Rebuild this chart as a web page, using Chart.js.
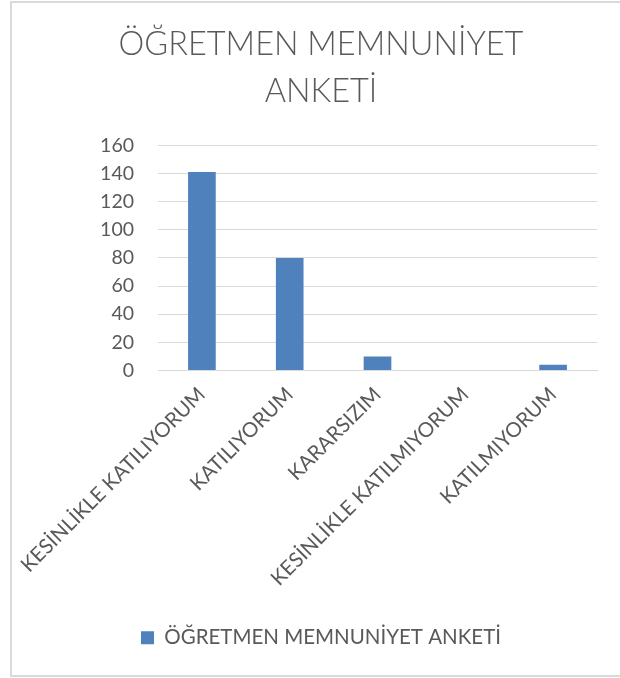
<!DOCTYPE html>
<html>
<head>
<meta charset="utf-8">
<script src="https://cdn.jsdelivr.net/npm/chart.js@4/dist/chart.umd.min.js"></script>
<style>
    html, body { margin: 0; padding: 0; background: #fff; }
    #wrap { position: relative; width: 620px; height: 678px; overflow: hidden; }
    #frame { position: absolute; left: 10px; top: 1px; width: 640px; height: 672px; border: 2px solid #d9d9d9; }
    canvas { position: absolute; left: 0; top: 0; }
</style>
</head>
<body>
<div id="wrap">
    <div id="frame"></div>
    <!-- canvas is a bit wider than the window so title/legend centre on the frame -->
    <canvas id="surveyChart" width="642" height="678"></canvas>
</div>
<script>
    // Survey answers and counts
    const categories = ['KESİNLİKLE KATILIYORUM', 'KATILIYORUM', 'KARARSIZIM', 'KESİNLİKLE KATILMIYORUM', 'KATILMIYORUM'];
    const counts = [141, 80, 10, 0, 4];
    const seriesName = 'ÖĞRETMEN MEMNUNİYET ANKETİ';
    const titleLines = ['ÖĞRETMEN MEMNUNİYET', 'ANKETİ'];
    const yTicks = [0, 20, 40, 60, 80, 100, 120, 140, 160];

    const textColor = '#595959';
    const fontFamily = 'Lato, "Open Sans", sans-serif';

    const ctx = document.getElementById('surveyChart').getContext('2d');
    const surveyChart = new Chart(ctx, {
        type: 'bar',
        data: {
            labels: categories,
            datasets: [{
                label: seriesName,
                data: counts,
                backgroundColor: '#4f81bd',
                borderWidth: 0,
                barPercentage: 0.315,
                categoryPercentage: 1
            }]
        },
        options: {
            responsive: false,
            animation: false,
            layout: {
                padding: { left: 45, right: 45, top: 0, bottom: 20 }
            },
            plugins: {
                title: {
                    display: true,
                    text: titleLines,
                    color: textColor,
                    font: { family: fontFamily, size: 32.5, weight: 300, lineHeight: 1.45 },
                    padding: { top: 21, bottom: 30 }
                },
                legend: {
                    position: 'bottom',
                    labels: {
                        color: textColor,
                        font: { family: fontFamily, size: 20.5 },
                        boxWidth: 13,
                        boxHeight: 13,
                        padding: 10
                    }
                },
                tooltip: { enabled: false }
            },
            scales: {
                x: {
                    grid: { display: false, drawTicks: false },
                    border: { display: true, color: '#d9d9d9', width: 1 },
                    ticks: {
                        color: textColor,
                        font: { family: fontFamily, size: 20.5 },
                        minRotation: 45,
                        maxRotation: 45,
                        padding: 12,
                        autoSkip: false
                    },
                    afterFit: function(scale) {
                        scale.height = 247;
                        scale.paddingLeft = 0;
                        scale.paddingRight = 0;
                    }
                },
                y: {
                    min: 0,
                    max: yTicks[yTicks.length - 1],
                    afterBuildTicks: function(scale) {
                        scale.ticks = yTicks.map(v => ({ value: v }));
                    },
                    afterFit: function(scale) { scale.width = 113; },
                    grid: { color: '#d9d9d9', lineWidth: 1, drawTicks: false },
                    border: { display: false },
                    ticks: {
                        color: textColor,
                        font: { family: fontFamily, size: 19.5 },
                        padding: 24
                    }
                }
            }
        }
    });
</script>
</body>
</html>
